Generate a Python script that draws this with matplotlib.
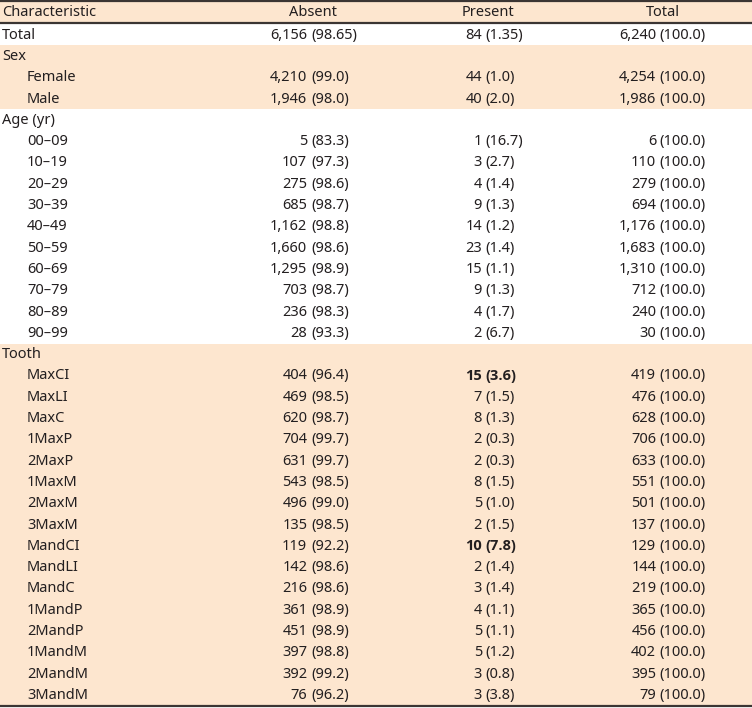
import matplotlib.pyplot as plt
from matplotlib.patches import Rectangle
from matplotlib import font_manager

base_family = 'Noto Sans'
plt.rcParams['font.family'] = [base_family, 'DejaVu Sans']

# column headers
columns = ["Characteristic", "Absent", "Present", "Total"]

# overall row
total_absent = "6,156 (98.65)"
total_present = "84 (1.35)"
total_total = "6,240 (100.0)"

# sex
sex_labels = ["Female", "Male"]
sex_absent = ["4,210 (99.0)", "1,946 (98.0)"]
sex_present = ["44 (1.0)", "40 (2.0)"]
sex_total = ["4,254 (100.0)", "1,986 (100.0)"]

# age groups
age_labels = ["00–09", "10–19", "20–29", "30–39", "40–49",
              "50–59", "60–69", "70–79", "80–89", "90–99"]
age_absent = ["5 (83.3)", "107 (97.3)", "275 (98.6)", "685 (98.7)", "1,162 (98.8)",
              "1,660 (98.6)", "1,295 (98.9)", "703 (98.7)", "236 (98.3)", "28 (93.3)"]
age_present = ["1 (16.7)", "3 (2.7)", "4 (1.4)", "9 (1.3)", "14 (1.2)",
               "23 (1.4)", "15 (1.1)", "9 (1.3)", "4 (1.7)", "2 (6.7)"]
age_total = ["6 (100.0)", "110 (100.0)", "279 (100.0)", "694 (100.0)", "1,176 (100.0)",
             "1,683 (100.0)", "1,310 (100.0)", "712 (100.0)", "240 (100.0)", "30 (100.0)"]

# teeth
tooth_labels = ["MaxCI", "MaxLI", "MaxC", "1MaxP", "2MaxP", "1MaxM", "2MaxM", "3MaxM",
                "MandCI", "MandLI", "MandC", "1MandP", "2MandP", "1MandM", "2MandM", "3MandM"]
tooth_absent = ["404 (96.4)", "469 (98.5)", "620 (98.7)", "704 (99.7)", "631 (99.7)",
                "543 (98.5)", "496 (99.0)", "135 (98.5)", "119 (92.2)", "142 (98.6)",
                "216 (98.6)", "361 (98.9)", "451 (98.9)", "397 (98.8)", "392 (99.2)", "76 (96.2)"]
tooth_present = ["15 (3.6)", "7 (1.5)", "8 (1.3)", "2 (0.3)", "2 (0.3)", "8 (1.5)",
                 "5 (1.0)", "2 (1.5)", "10 (7.8)", "2 (1.4)", "3 (1.4)", "4 (1.1)",
                 "5 (1.1)", "5 (1.2)", "3 (0.8)", "3 (3.8)"]
tooth_total = ["419 (100.0)", "476 (100.0)", "628 (100.0)", "706 (100.0)", "633 (100.0)",
               "551 (100.0)", "501 (100.0)", "137 (100.0)", "129 (100.0)", "144 (100.0)",
               "219 (100.0)", "365 (100.0)", "456 (100.0)", "402 (100.0)", "395 (100.0)",
               "79 (100.0)"]
tooth_bold = ["MaxCI", "MandCI"]

# build rows: (label, indent, absent, present, total, shaded, bold_present)
rows = [("Total", False, total_absent, total_present, total_total, False, False)]
rows.append(("Sex", False, "", "", "", True, False))
for i in range(len(sex_labels)):
    rows.append((sex_labels[i], True, sex_absent[i], sex_present[i], sex_total[i], True, False))
rows.append(("Age (yr)", False, "", "", "", False, False))
for i in range(len(age_labels)):
    rows.append((age_labels[i], True, age_absent[i], age_present[i], age_total[i], False, False))
rows.append(("Tooth", False, "", "", "", True, False))
for i in range(len(tooth_labels)):
    rows.append((tooth_labels[i], True, tooth_absent[i], tooth_present[i], tooth_total[i],
                 True, tooth_labels[i] in tooth_bold))

# pick a family that really has a bold face
bold_family = 'DejaVu Sans'
for fam in [base_family, 'Open Sans', 'Roboto', 'Lato']:
    try:
        f = font_manager.findfont(font_manager.FontProperties(family=fam, weight='bold'),
                                  fallback_to_default=False)
        if 'bold' in f.lower():
            bold_family = fam
            break
    except Exception:
        pass

W, H = 752, 708
fig = plt.figure(figsize=(W / 100, H / 100), dpi=100)
ax = fig.add_axes([0, 0, 1, 1])
ax.set_xlim(0, W)
ax.set_ylim(H, 0)
ax.axis('off')
renderer = fig.canvas.get_renderer()

shade = '#fde6cf'
ink = '#231f20'
rule = '#3b3533'
fs = 10.5


def text_width(s, **kw):
    t = ax.text(0, 0, s, fontsize=fs, **kw)
    w = t.get_window_extent(renderer).width
    t.remove()
    return w


# header
ax.add_patch(Rectangle((0, 1), W, 22, color=shade, lw=0))
ax.text(2, 12.5, columns[0], ha='left', va='center', fontsize=fs, color=ink)
for name, xc in zip(columns[1:], [313, 488, 663]):
    ax.text(xc, 12.5, name, ha='center', va='center', fontsize=fs, color=ink)

# "(" positions: right edge of a typical cell minus width of its percent part
right_edge = [348.5, 515, 706]
typical_pct = ["(96.4)", "(1.5)", "(100.0)"]
paren_x = [r - text_width(s) for r, s in zip(right_edge, typical_pct)]
gap = text_width("0 0") - text_width("00")

y0 = 24
rh = 21.3

for k, (label, indent, a, p, t, shaded, bold_p) in enumerate(rows):
    top = y0 + k * rh
    if shaded:
        ax.add_patch(Rectangle((0, top), W, rh + 0.3, color=shade, lw=0))
    yc = top + rh / 2 + 0.5
    ax.text(27 if indent else 2, yc, label, ha='left', va='center', fontsize=fs, color=ink)
    for j, cell in enumerate([a, p, t]):
        if not cell:
            continue
        cnt, pct = cell.split(" ")
        kw = dict(fontsize=fs, color=ink)
        if j == 1 and bold_p:
            kw.update(fontweight='bold', family=[bold_family, 'DejaVu Sans'])
        ax.text(paren_x[j] - gap, yc, cnt, ha='right', va='center', **kw)
        ax.text(paren_x[j], yc, pct, ha='left', va='center', **kw)

# rules
ax.plot([0, W], [1, 1], color=rule, lw=1.6, solid_capstyle='butt')
ax.plot([0, W], [23, 23], color=rule, lw=1.6, solid_capstyle='butt')
bottom = y0 + len(rows) * rh
ax.plot([0, W], [bottom, bottom], color=rule, lw=1.6, solid_capstyle='butt')

fig.savefig('out.png', dpi=100)
